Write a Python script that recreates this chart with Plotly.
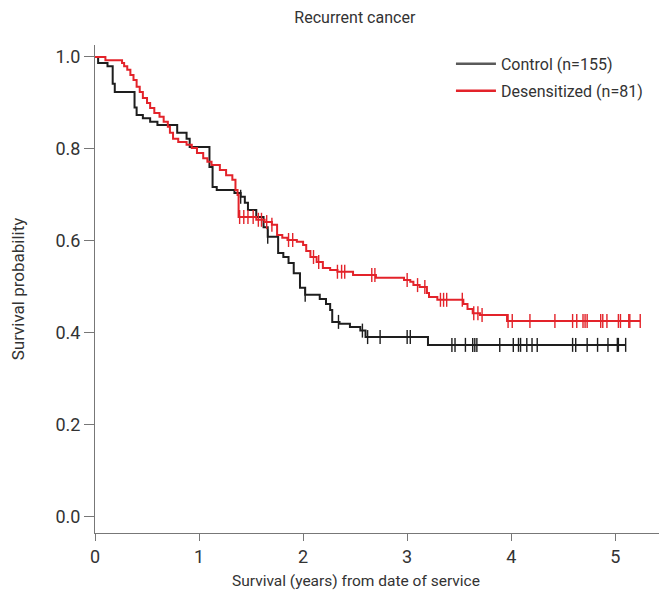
import numpy as np
import plotly.graph_objects as go

# Kaplan-Meier step points (time in years, survival probability)
ctrl_time = [0.00, 0.03, 0.12, 0.17, 0.19, 0.38, 0.40, 0.46, 0.53, 0.60, 0.79, 0.88, 0.91,
             1.10, 1.13, 1.17, 1.34, 1.40, 1.44, 1.47, 1.55, 1.62, 1.66, 1.76, 1.81, 1.86,
             1.91, 1.97, 2.02, 2.16, 2.22, 2.26, 2.28, 2.35, 2.45, 2.55, 2.60, 3.20, 5.10]
ctrl_surv = [1.000, 0.987, 0.980, 0.942, 0.924, 0.890, 0.874, 0.867, 0.859, 0.852, 0.835, 0.822, 0.804,
             0.761, 0.717, 0.711, 0.704, 0.696, 0.683, 0.667, 0.652, 0.630, 0.609, 0.574, 0.565, 0.552,
             0.530, 0.498, 0.483, 0.474, 0.463, 0.450, 0.424, 0.420, 0.413, 0.405, 0.391, 0.374, 0.374]
ctrl_censor = [1.40, 1.66, 2.02, 2.34, 2.57, 2.62, 2.74, 3.00, 3.03, 3.43, 3.46, 3.56, 3.63, 3.65,
               3.67, 3.89, 4.02, 4.07, 4.09, 4.15, 4.20, 4.25, 4.59, 4.62, 4.73, 4.83, 4.93, 5.02,
               5.03, 5.10]

des_time = [0.00, 0.10, 0.26, 0.28, 0.31, 0.34, 0.37, 0.40, 0.43, 0.46, 0.50, 0.53, 0.57, 0.62,
            0.66, 0.70, 0.72, 0.75, 0.80, 0.88, 0.93, 0.98, 1.04, 1.08, 1.12, 1.20, 1.26, 1.32,
            1.35, 1.37, 1.38, 1.55, 1.63, 1.70, 1.75, 1.80, 1.85, 1.94, 2.00, 2.03, 2.07, 2.13,
            2.19, 2.26, 2.33, 2.48, 2.70, 2.97, 3.03, 3.06, 3.12, 3.19, 3.21, 3.29, 3.54, 3.58,
            3.63, 3.70, 3.96, 5.24]
des_surv = [1.000, 0.993, 0.987, 0.980, 0.972, 0.961, 0.950, 0.935, 0.924, 0.911, 0.900, 0.889, 0.878, 0.870,
            0.859, 0.848, 0.835, 0.822, 0.815, 0.809, 0.802, 0.791, 0.780, 0.772, 0.765, 0.754, 0.743, 0.733,
            0.711, 0.700, 0.652, 0.646, 0.641, 0.635, 0.613, 0.607, 0.602, 0.598, 0.591, 0.578, 0.565, 0.554,
            0.541, 0.537, 0.533, 0.526, 0.520, 0.515, 0.511, 0.504, 0.500, 0.487, 0.478, 0.472, 0.463, 0.452,
            0.443, 0.439, 0.426, 0.426]
des_censor = [1.39, 1.43, 1.47, 1.52, 1.57, 1.60, 1.65, 1.70, 1.86, 1.90, 2.10, 2.15, 2.33, 2.37,
              2.40, 2.66, 2.69, 3.00, 3.10, 3.17, 3.32, 3.35, 3.38, 3.53, 3.64, 3.68, 3.72, 3.97,
              4.01, 4.18, 4.42, 4.59, 4.63, 4.69, 4.71, 4.73, 4.86, 4.88, 4.92, 5.03, 5.05, 5.13,
              5.14, 5.24]

groups = [
    ("Control (n=155)", ctrl_time, ctrl_surv, ctrl_censor, "#1e1e1e", "#5a5a5a", "legend"),
    ("Desensitized (n=81)", des_time, des_surv, des_censor, "#e3232a", "#e3232a", "legend2"),
]

FONT = "Roboto, sans-serif"
TXT = "#333333"


def step_value(times, surv, t):
    idx = np.searchsorted(np.array(times), t, side="right") - 1
    return np.array(surv)[idx]


fig = go.Figure()
for name, t, s, cens, color, leg_color, leg in groups:
    fig.add_trace(go.Scatter(
        x=t, y=s, mode="lines", line=dict(color=color, width=2, shape="hv"),
        name=name, legendgroup=name, showlegend=False, hoverinfo="skip"))
    fig.add_trace(go.Scatter(
        x=cens, y=step_value(t, s, cens), mode="markers",
        marker=dict(symbol="line-ns", size=10, line=dict(color=color, width=1.4)),
        legendgroup=name, showlegend=False, hoverinfo="skip"))
    # legend entry only
    fig.add_trace(go.Scatter(
        x=[None], y=[None], mode="lines", line=dict(color=leg_color, width=2.5),
        name=name, legendgroup=name, showlegend=True, legend=leg))

legend_style = dict(xanchor="left", yanchor="top", bgcolor="rgba(0,0,0,0)",
                    font=dict(size=16, color=TXT), itemwidth=40)

# page body has an 8px offset, margins account for it
fig.update_layout(
    width=667, height=607,
    margin=dict(l=87, r=15, t=37, b=82),
    paper_bgcolor="white", plot_bgcolor="white",
    font=dict(family=FONT, size=16, color=TXT),
    title=dict(text="Recurrent cancer", x=0.52, xref="container", xanchor="center",
               y=0.985, yref="container", yanchor="middle", font=dict(size=16, color=TXT)),
    legend=dict(x=0.630, y=0.996, **legend_style),
    legend2=dict(x=0.630, y=0.941, **legend_style),
    showlegend=True,
)
# x title sits left of the plot centre in the original, so place it as an annotation
fig.add_annotation(text="Survival (years) from date of service", xref="paper", yref="paper",
                   x=0.462, y=-0.098, xanchor="center", yanchor="middle", showarrow=False,
                   font=dict(size=15.5, color=TXT))
fig.update_xaxes(
    range=[0, 5.43], tickvals=[0, 1, 2, 3, 4, 5], ticks="outside", ticklen=7, tickcolor="#777777",
    showline=True, linecolor="#777777", linewidth=1, showgrid=False, zeroline=False,
    tickfont=dict(size=18), automargin=False,
)
fig.update_yaxes(
    range=[-0.035, 1.026], tickvals=[0, 0.2, 0.4, 0.6, 0.8, 1.0], tickformat=".1f",
    ticks="outside", ticklen=10, tickcolor="#777777",
    showline=True, linecolor="#777777", linewidth=1, showgrid=False, zeroline=False,
    tickfont=dict(size=18), automargin=False,
    title=dict(text="Survival probability", standoff=30, font=dict(size=17)),
)

fig.write_html("out.html")
